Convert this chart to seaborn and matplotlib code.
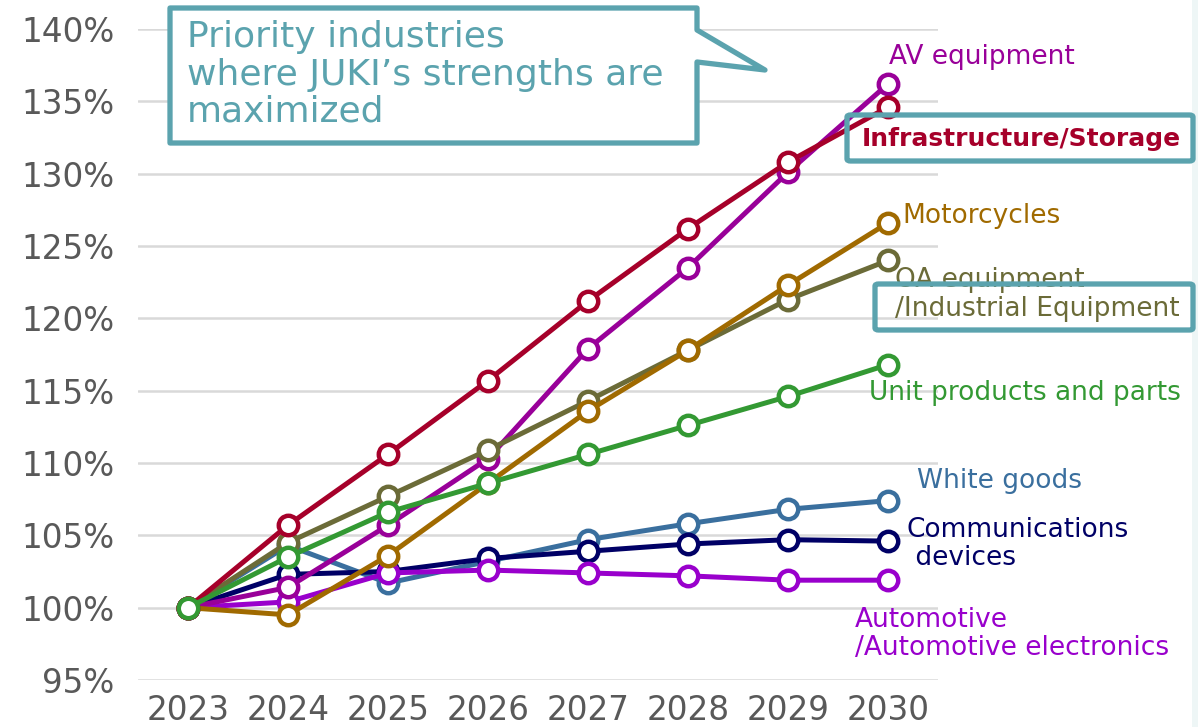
import matplotlib
matplotlib.use("Agg")
import matplotlib.pyplot as plt
from matplotlib.patches import Polygon, FancyBboxPatch, Rectangle
import seaborn as sns
import pandas as pd

years = [2023, 2024, 2025, 2026, 2027, 2028, 2029, 2030]

white_goods = [100, 104.3, 101.7, 103.2, 104.7, 105.8, 106.8, 107.4]
communications = [100, 102.3, 102.5, 103.4, 103.9, 104.4, 104.7, 104.6]
automotive = [100, 100.4, 102.4, 102.6, 102.4, 102.2, 101.9, 101.9]
av_equipment = [100, 101.4, 105.7, 110.3, 117.9, 123.5, 130.1, 136.2]
oa_equipment = [100, 104.5, 107.7, 110.9, 114.3, 117.8, 121.3, 124.0]
motorcycles = [100, 99.5, 103.6, 108.6, 113.6, 117.8, 122.3, 126.6]
infrastructure = [100, 105.7, 110.6, 115.7, 121.2, 126.2, 130.8, 134.6]
unit_products = [100, 103.5, 106.6, 108.6, 110.6, 112.6, 114.6, 116.8]

series_names = ["White goods", "Communications devices", "Automotive",
                "AV equipment", "OA equipment", "Motorcycles",
                "Infrastructure/Storage", "Unit products and parts"]
series_values = [white_goods, communications, automotive, av_equipment,
                 oa_equipment, motorcycles, infrastructure, unit_products]
colors = ["#3A6F9E", "#000066", "#9900CC", "#990099",
          "#6B6B38", "#A06A00", "#A6002A", "#339933"]

y_ticks = [95, 100, 105, 110, 115, 120, 125, 130, 135, 140]
y_tick_labels = ["95%", "100%", "105%", "110%", "115%", "120%", "125%", "130%", "135%", "140%"]

W, H = 1198, 727
sns.set_theme(style="white")
plt.rcParams["font.family"] = ["DejaVu Sans"]

fig = plt.figure(figsize=(W / 100, H / 100), dpi=100)
fig.patch.set_facecolor("white")

def fx(px):
    return px / W

def fy(py):
    return 1 - py / H

ax_left, ax_right, ax_top, ax_bottom = 138, 938, 29, 680
ax = fig.add_axes([fx(ax_left), fy(ax_bottom), fx(ax_right) - fx(ax_left), (ax_bottom - ax_top) / H])

rows = []
for name, vals in zip(series_names, series_values):
    for yr, v in zip(years, vals):
        rows.append({"year": yr, "value": v, "series": name})
df = pd.DataFrame(rows)

for i, (name, col) in enumerate(zip(series_names, colors)):
    sns.lineplot(data=df[df["series"] == name], x="year", y="value", ax=ax,
                 color=col, linewidth=3.6, marker="o", markersize=14,
                 markerfacecolor="white", markeredgecolor=col, markeredgewidth=3.2,
                 zorder=3 + i, legend=False)

ax.set_xlim(2022.5, 2030.5)
ax.set_ylim(95, 140)
ax.set_yticks(y_ticks)
ax.set_yticklabels(y_tick_labels)
ax.set_xticks(years)
ax.set_xticklabels([str(y) for y in years])
ax.tick_params(axis="both", labelsize=23.5, labelcolor="#595959", length=0)
ax.tick_params(axis="y", pad=17)
ax.tick_params(axis="x", pad=10)
ax.set_xlabel("")
ax.set_ylabel("")
ax.grid(axis="y", color="#D9D9D9", linewidth=1.8)
ax.grid(axis="x", visible=False)
for s in ax.spines.values():
    s.set_visible(False)

# right light strip
fig.patches.append(Rectangle((fx(1192), 0), fx(W) - fx(1192), 1, transform=fig.transFigure,
                             facecolor="#EEF6F6", edgecolor="none", zorder=0))

teal = "#5BA3AE"

# callout
pts = [(170, 8), (697, 8), (697, 30), (765, 70), (697, 62), (697, 143), (170, 143)]
poly = Polygon([(fx(x), fy(y)) for x, y in pts], closed=True, transform=fig.transFigure,
               facecolor="white", edgecolor=teal, linewidth=3.8, joinstyle="round", zorder=20)
fig.patches.append(poly)
callout_lines = ["Priority industries", "where JUKI\u2019s strengths are", "maximized"]
for txt, yy in zip(callout_lines, [37, 75, 111]):
    fig.text(fx(187), fy(yy), txt, color=teal, fontsize=26, va="center", ha="left", zorder=21)

# labels
fs = 19
def label(txt, x, y, col, size=fs, **kw):
    fig.text(fx(x), fy(y), txt, color=col, fontsize=size, va="center", ha="left", zorder=25, **kw)

label("AV equipment", 889, 57, colors[3])
label("Infrastructure/Storage", 862, 139, colors[6], size=18, fontweight="bold")
label("Motorcycles", 902, 216, colors[5])
label("OA equipment", 895, 280, colors[4])
label("/Industrial Equipment", 895, 309, colors[4])
label("Unit products and parts", 869, 393, colors[7])
label("White goods", 917, 481, colors[0])
label("Communications", 907, 530, colors[1])
label(" devices", 907, 558, colors[1])
label("Automotive", 855, 620, colors[2])
label("/Automotive electronics", 855, 648, colors[2])

# boxes
for (x0, y0, x1, y1) in [(847, 115, 1193, 161), (875, 284, 1193, 330)]:
    fig.patches.append(FancyBboxPatch((fx(x0), fy(y1)), fx(x1) - fx(x0), (y1 - y0) / H,
                                      boxstyle="round,pad=0,rounding_size=0.003",
                                      transform=fig.transFigure, facecolor="none",
                                      edgecolor=teal, linewidth=3.8, zorder=30))

fig.savefig("out.png", dpi=100)
